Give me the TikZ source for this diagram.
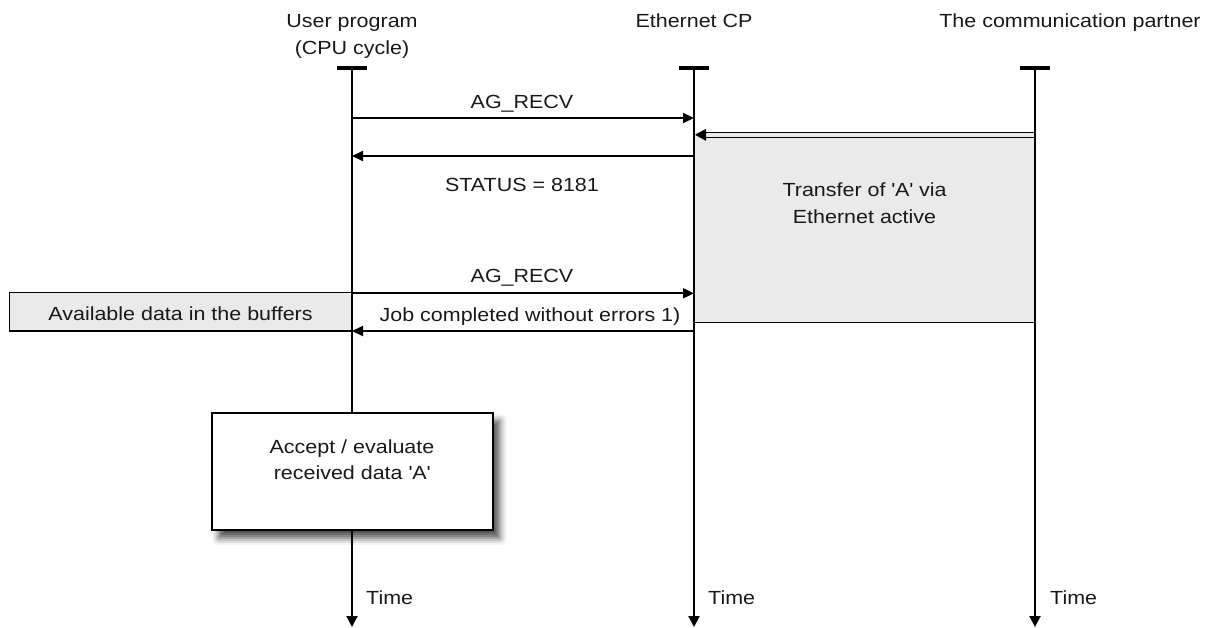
\documentclass[tikz,border=0pt]{standalone}
\usepackage{fontspec}
\setmainfont{Liberation Sans}[FakeStretch=1.13]
\usetikzlibrary{arrows.meta,shadows.blur}
\definecolor{boxgray}{RGB}{234,234,234}
\definecolor{txt}{RGB}{25,25,25}
\newcommand\lblfont{\fontsize{19}{26}\selectfont}
\newcommand\sq{\textquotesingle}
\tikzset{
  lbl/.style={font=\lblfont, text=txt, inner sep=0pt, anchor=base},
  tlbl/.style={lbl, anchor=base west},
  life/.style={line width=2pt, -{Triangle[length=11pt,width=11pt]}},
  headbar/.style={line width=4pt},
  msg/.style={line width=1.8pt, -{Triangle[length=11pt,width=10pt]}},
}
\begin{document}
\begin{tikzpicture}[x=1pt,y=-1pt]
\useasboundingbox (0,0) rectangle (1206,627);
% lifeline coordinates
\coordinate (uT) at (352,68);  \coordinate (uB) at (352,627);
\coordinate (cT) at (694,68);  \coordinate (cB) at (694,627);
\coordinate (pT) at (1035,68); \coordinate (pB) at (1035,627);
% headers
\node[lbl] (hu1) at (352,27) {User program};
\node[lbl] (hu2) at (352,54) {(CPU cycle)};
\node[lbl] (hc) at (694,27) {Ethernet CP};
\node[lbl] (hp) at (1070,27) {The communication partner};
% gray transfer box
\fill[boxgray] (694,132.3) rectangle (1035,322.7);
\draw[line width=1.3pt] (694,322.7) -- (1035,322.7);
\node[lbl] (tr1) at (864.5,196.7) {Transfer of \sq A\sq{} via};
\node[lbl] (tr2) at (864.5,223.3) {Ethernet active};
% partner -> CP double arrow
\coordinate (pa) at (1035,132.3); \coordinate (pa2) at (1035,137.3);
\coordinate (ca) at (705,132.3);  \coordinate (ca2) at (705,137.3);
\draw[line width=1.3pt] (pa) -- (ca);
\draw[line width=1.3pt] (pa2) -- (ca2);
\fill (695,134.8) -- (706,128.8) -- (706,140.8) -- cycle;
% lifelines
\draw[headbar] (337,68) -- (367,68);
\draw[headbar] (679,68) -- (709,68);
\draw[headbar] (1020,68) -- (1050,68);
\draw[life] (uT) -- (uB);
\draw[life] (cT) -- (cB);
\draw[life] (pT) -- (pB);
% messages
\coordinate (u1) at (352,118);   \coordinate (c1) at (694,118);
\coordinate (c3) at (694,156);   \coordinate (u3) at (352,156);
\coordinate (u4) at (352,293.3); \coordinate (c4) at (694,293.3);
\coordinate (c5) at (694,331);   \coordinate (u5) at (352,331);
\draw[msg] (u1) -- (c1);
\node[lbl] (l1) at (522,108) {AG\_RECV};
\draw[msg] (c3) -- (u3);
\node[lbl] (l3) at (522,191) {STATUS = 8181};
\draw[msg] (u4) -- (c4);
\node[lbl] (l4) at (522,282.7) {AG\_RECV};
\draw[msg] (c5) -- (u5);
\node[lbl] (l5) at (530,321.7) {Job completed without errors 1)};
% buffer box
\draw[fill=boxgray, line width=1.5pt] (9.3,292.3) rectangle (352,331);
\node[lbl] (buf) at (180.5,320.5) {Available data in the buffers};
% accept box
\draw[fill=white, line width=2pt, blur shadow={shadow xshift=7pt, shadow yshift=-8pt, shadow blur radius=7pt, shadow opacity=70}] (211.7,412.7) rectangle (492.7,530);
\node[lbl] (ac1) at (352,453) {Accept / evaluate};
\node[lbl] (ac2) at (352,479) {received data \sq A\sq};
% time labels
\node[tlbl] (t1) at (366,604) {Time};
\node[tlbl] (t2) at (708,604) {Time};
\node[tlbl] (t3) at (1050,604) {Time};
\end{tikzpicture}
\end{document}
